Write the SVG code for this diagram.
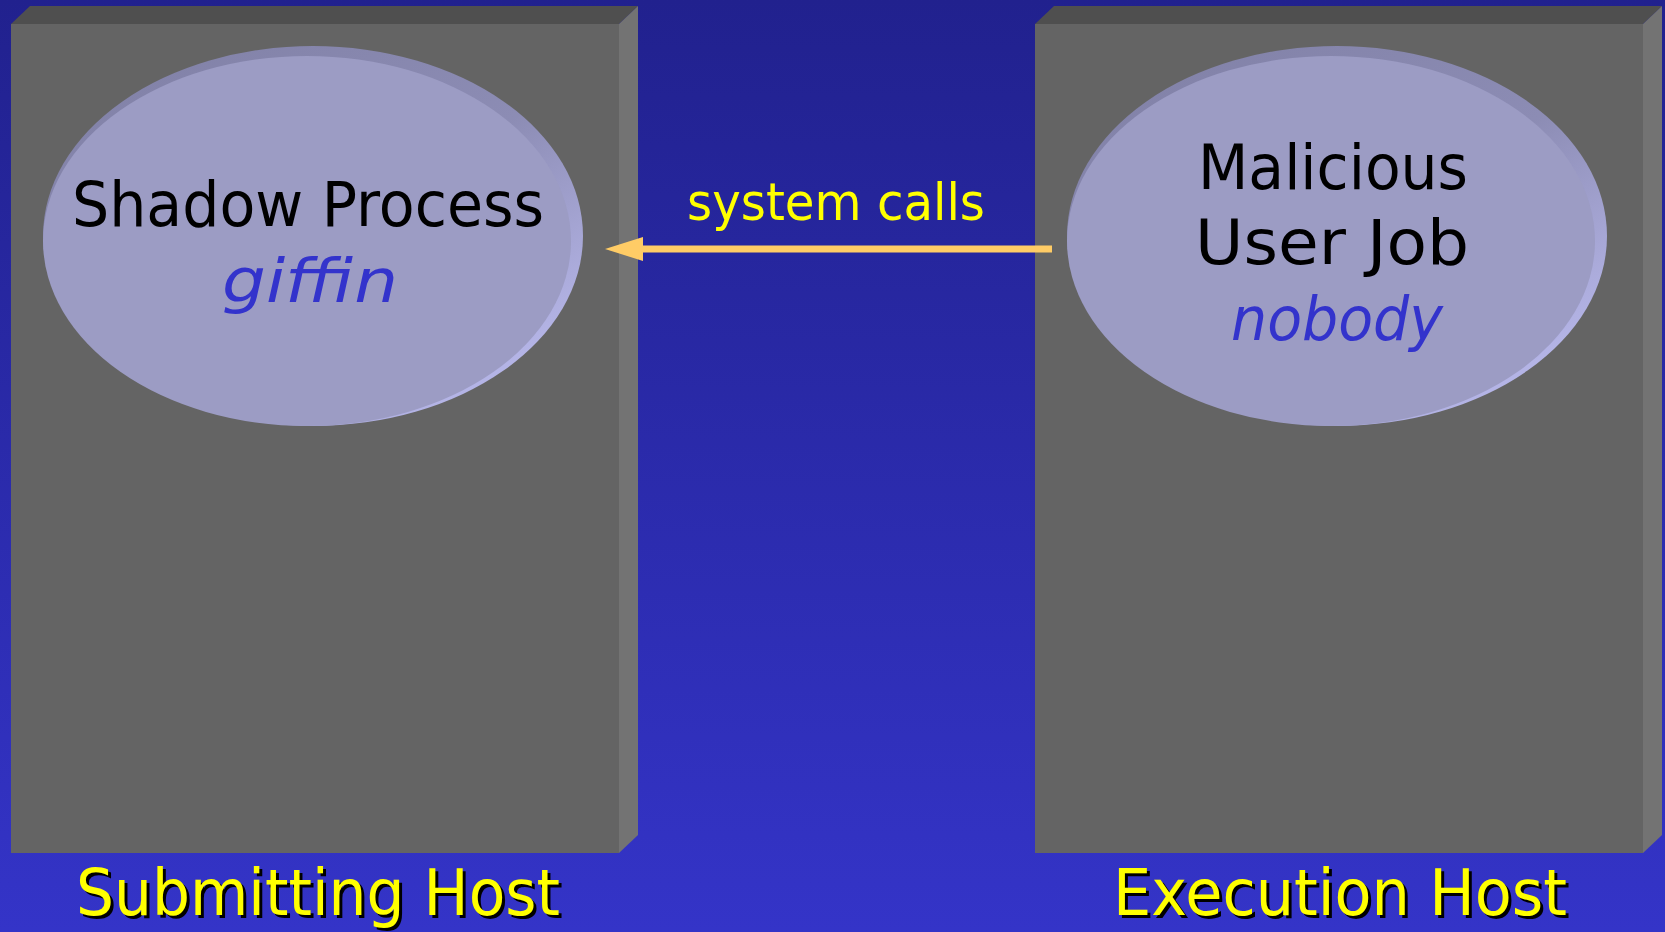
<svg xmlns="http://www.w3.org/2000/svg" width="1665" height="932" viewBox="0 0 1665 932">
  <defs>
    <linearGradient id="bg" x1="0" y1="0" x2="0" y2="1">
      <stop offset="0" stop-color="#21218e"/>
      <stop offset="1" stop-color="#3434c8"/>
    </linearGradient>
    <linearGradient id="rim" x1="0.2" y1="0" x2="0.9" y2="0.8">
      <stop offset="0" stop-color="#8282a8"/>
      <stop offset="0.55" stop-color="#8c8cb4"/>
      <stop offset="1" stop-color="#b4b4e6"/>
    </linearGradient>
    <!-- arrowhead: base sits on the line end, tip points along the line -->
    <marker id="head" viewBox="0 0 38 24" refX="0" refY="12" markerWidth="38" markerHeight="24" markerUnits="userSpaceOnUse" orient="auto">
      <path d="M0,0 L38,12 L0,24 Z" fill="#ffcc66"/>
    </marker>
  </defs>
  <style>
    .front { fill: #646464; }
    .top { fill: #4f4f4f; }
    .side { fill: #737373; }
    .disk { fill: #9c9cc4; }
    .name { font-family: "DejaVu Sans", "Liberation Sans", sans-serif; font-size: 62px; fill: #000000; text-anchor: middle; }
    .user { font-family: "DejaVu Sans", "Liberation Sans", sans-serif; font-style: italic; font-size: 60px; fill: #3333cc; text-anchor: middle; }
    .label { font-family: "DejaVu Sans", "Liberation Sans", sans-serif; font-size: 52px; fill: #ffff00; text-anchor: middle; }
    .host { font-family: "DejaVu Sans", "Liberation Sans", sans-serif; font-size: 64px; text-anchor: middle; }
  </style>

  <rect x="0" y="0" width="1665" height="932" fill="url(#bg)"/>

  <!-- submitting host machine -->
  <g id="submitting-host">
    <polygon class="top" points="11,24 30,6 638,6 619,24"/>
    <polygon class="side" points="619,24 638,6 638,835 619,853"/>
    <rect class="front" x="11" y="24" width="608" height="829"/>
    <text class="host" x="321" y="918" fill="#000000" textLength="484" lengthAdjust="spacingAndGlyphs">Submitting Host</text>
    <text class="host" x="318" y="915" fill="#ffff00" textLength="484" lengthAdjust="spacingAndGlyphs">Submitting Host</text>
  </g>

  <!-- shadow process on the submitting host -->
  <g id="shadow-process">
    <ellipse cx="313" cy="236" rx="270" ry="190" fill="url(#rim)"/>
    <ellipse class="disk" cx="307" cy="241" rx="264" ry="185"/>
    <text class="name" x="308" y="226" textLength="472" lengthAdjust="spacingAndGlyphs">Shadow Process</text>
    <text class="user" x="310" y="302" textLength="176" lengthAdjust="spacingAndGlyphs">giffin</text>
  </g>

  <!-- execution host machine -->
  <g id="execution-host">
    <polygon class="top" points="1035,24 1054,6 1662,6 1643,24"/>
    <polygon class="side" points="1643,24 1662,6 1662,835 1643,853"/>
    <rect class="front" x="1035" y="24" width="608" height="829"/>
    <text class="host" x="1343" y="918" fill="#000000" textLength="454" lengthAdjust="spacingAndGlyphs">Execution Host</text>
    <text class="host" x="1340" y="915" fill="#ffff00" textLength="454" lengthAdjust="spacingAndGlyphs">Execution Host</text>
  </g>

  <!-- malicious job on the execution host -->
  <g id="malicious-job">
    <ellipse cx="1337" cy="236" rx="270" ry="190" fill="url(#rim)"/>
    <ellipse class="disk" cx="1331" cy="241" rx="264" ry="185"/>
    <text class="name" x="1333" y="189" textLength="270" lengthAdjust="spacingAndGlyphs">Malicious</text>
    <text class="name" x="1332" y="264" textLength="274" lengthAdjust="spacingAndGlyphs">User Job</text>
    <text class="user" x="1337" y="340" textLength="212" lengthAdjust="spacingAndGlyphs">nobody</text>
  </g>

  <!-- connectors -->
  <g id="connectors">
    <line x1="1052" y1="249" x2="643" y2="249" stroke="#ffcc66" stroke-width="7" marker-end="url(#head)"/>
    <text class="label" x="836" y="220" textLength="298" lengthAdjust="spacingAndGlyphs">system calls</text>
  </g>
</svg>
